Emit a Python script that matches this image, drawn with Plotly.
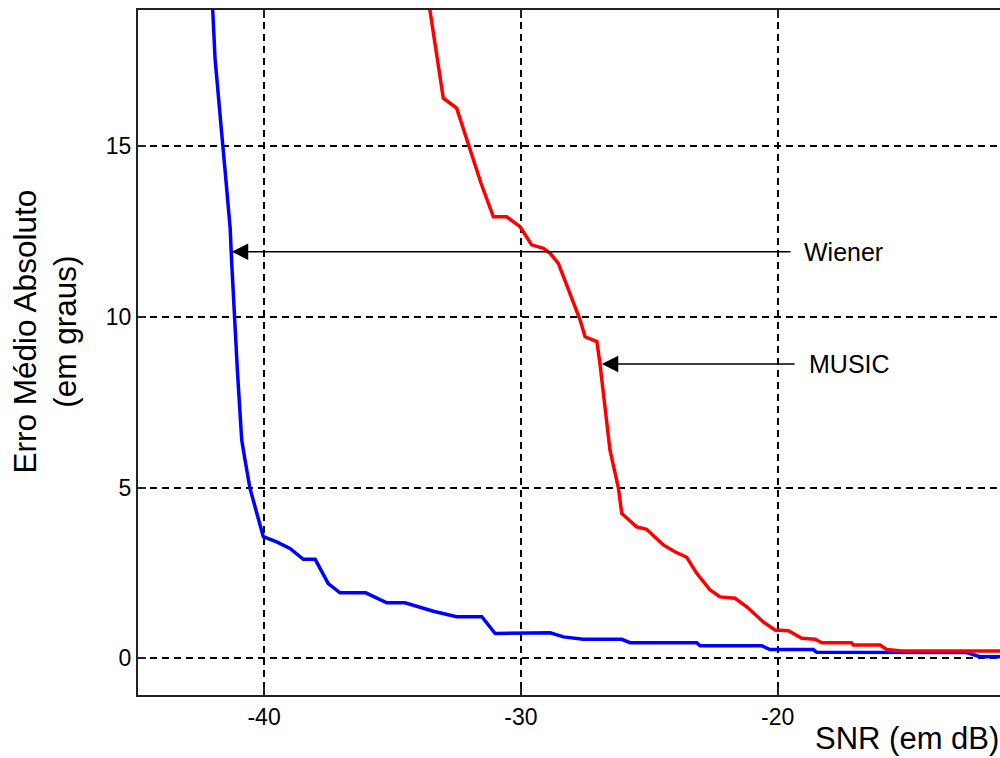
import plotly.graph_objects as go

# Mean absolute error (degrees) versus SNR (dB) for each estimator
wiener_snr = [-42.10, -42.00, -41.91, -41.78, -41.65, -41.52, -41.45, -41.32, -41.26,
              -41.20, -41.13, -41.04, -40.96, -40.87, -40.74, -40.61, -40.55, -40.28,
              -40.03, -39.51, -38.99, -38.47, -38.01, -37.50, -37.04, -36.04, -35.22,
              -34.51, -33.99, -33.41, -32.50, -31.52, -31.00, -28.86, -28.34, -27.57,
              -26.07, -25.75, -23.15, -23.02, -20.62, -20.30, -18.61, -18.48, -12.64,
              -12.12, -10.00]
wiener_err = [19.50, 18.97, 17.56, 16.34, 15.36, 14.29, 13.61, 12.58, 11.56,
              10.58, 9.51, 8.44, 7.46, 6.39, 5.80, 5.22, 4.98, 4.24,
              3.56, 3.41, 3.22, 2.90, 2.90, 2.19, 1.92, 1.92, 1.63,
              1.63, 1.51, 1.38, 1.22, 1.22, 0.73, 0.75, 0.63, 0.56,
              0.56, 0.46, 0.46, 0.37, 0.37, 0.26, 0.26, 0.18, 0.17,
              0.05, 0.04]

music_snr = [-33.65, -33.54, -33.28, -33.02, -32.50, -32.04, -31.55, -31.07, -30.55,
             -30.03, -29.58, -29.12, -28.86, -28.54, -28.02, -27.69, -27.50, -27.04,
             -26.92, -26.79, -26.53, -26.20, -26.07, -25.49, -25.10, -24.45, -24.00,
             -23.54, -23.15, -22.63, -22.24, -21.66, -21.20, -20.56, -20.10, -19.58,
             -19.06, -18.54, -18.28, -17.12, -17.05, -16.01, -15.75, -15.17, -10.00]
music_err = [19.50, 18.97, 17.80, 16.39, 16.10, 15.02, 13.90, 12.92, 12.92,
             12.63, 12.10, 12.00, 11.85, 11.56, 10.58, 9.90, 9.41, 9.27,
             8.63, 7.76, 6.10, 4.98, 4.24, 3.85, 3.78, 3.32, 3.12,
             2.96, 2.49, 2.00, 1.80, 1.76, 1.51, 1.07, 0.83, 0.81,
             0.59, 0.56, 0.46, 0.46, 0.39, 0.39, 0.26, 0.22, 0.22]

x_ticks = [-40, -30, -20]
x_tick_labels = ["-40", "-30", "-20"]
y_ticks = [0, 5, 10, 15]
y_tick_labels = ["0", "5", "10", "15"]

FONT = "Liberation Sans, Arial, sans-serif"

fig = go.Figure()
fig.add_trace(go.Scatter(x=wiener_snr, y=wiener_err, mode="lines", name="Wiener",
                         line=dict(color="#0000ff", width=3.5)))
fig.add_trace(go.Scatter(x=music_snr, y=music_err, mode="lines", name="MUSIC",
                         line=dict(color="#ff0000", width=3.5)))

axis_common = dict(
    showgrid=True, gridcolor="black", gridwidth=1.5, griddash="7px,5px",
    zeroline=False, showline=True, linecolor="#222222", linewidth=2,
    ticks="inside", ticklen=8, tickcolor="#222222", tickwidth=1.5,
    tickfont=dict(family=FONT, size=23, color="black"),
)

fig.update_xaxes(range=[-44.91, -11.34], tickvals=x_ticks, ticktext=x_tick_labels,
                 mirror="ticks", **axis_common)
fig.update_yaxes(range=[-1.07, 18.97], tickvals=y_ticks, ticktext=y_tick_labels,
                 mirror=False, **axis_common)

# Callout arrows pointing at each curve, labels to the right of the arrow tails
callouts = [
    dict(label="Wiener", tip=(-41.26, 11.90), tail=(-19.44, 11.90), text_x=-19.05),
    dict(label="MUSIC", tip=(-26.85, 8.61), tail=(-19.28, 8.61), text_x=-18.87),
]
for c in callouts:
    fig.add_annotation(x=c["tip"][0], y=c["tip"][1], ax=c["tail"][0], ay=c["tail"][1],
                       xref="x", yref="y", axref="x", ayref="y", text="",
                       showarrow=True, arrowhead=2, arrowsize=2.2, arrowwidth=1.5,
                       arrowcolor="black", standoff=0)
    fig.add_annotation(x=c["text_x"], y=c["tip"][1], xref="x", yref="y",
                       text=c["label"], showarrow=False, xanchor="left", yanchor="middle",
                       font=dict(family=FONT, size=25, color="black"))

# Axis titles
fig.add_annotation(x=-0.1073, y=0.530, xref="paper", yref="paper",
                   text="Erro Médio Absoluto<br>(em graus)", textangle=-90,
                   showarrow=False, xanchor="center", yanchor="middle",
                   font=dict(family=FONT, size=31.5, color="black"))
fig.add_annotation(x=0.783, y=-0.0628, xref="paper", yref="paper",
                   text="SNR (em dB)", showarrow=False, xanchor="left", yanchor="middle",
                   font=dict(family=FONT, size=31, color="black"))

fig.update_layout(
    width=1000, height=758,
    margin=dict(l=138, r=0, t=10, b=63),
    plot_bgcolor="white", paper_bgcolor="white",
    showlegend=False,
)

fig.write_html("out.html")
